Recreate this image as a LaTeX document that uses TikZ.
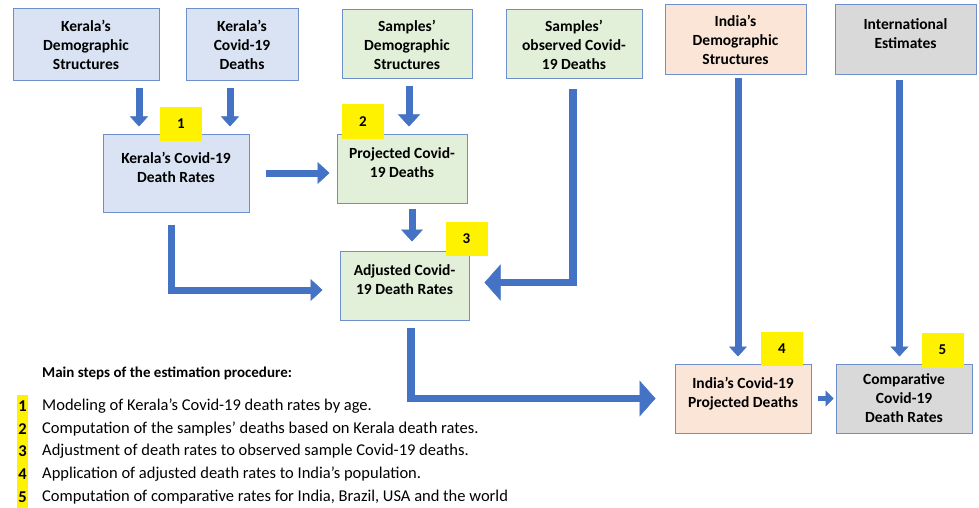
\documentclass[tikz,border=0pt]{standalone}
\usepackage{fontspec}
\setmainfont{Carlito}
\usetikzlibrary{positioning}
\usetikzlibrary{arrows.meta}

\definecolor{arrowblue}{HTML}{4472C4}
\definecolor{edgeblue}{HTML}{6E8FCB}
\definecolor{keralafill}{HTML}{DAE3F3}
\definecolor{samplefill}{HTML}{E2F0D9}
\definecolor{indiafill}{HTML}{FBE5D6}
\definecolor{worldfill}{HTML}{D9D9D9}

% empty last line, pushes two-line texts up a little
\newcommand\padline{\\[-7pt]\mbox{}}

\begin{document}
\begin{tikzpicture}[x=1pt, y=-1pt,
       box/.style={draw=edgeblue, line width=1pt, align=center, inner sep=0pt,
                   font=\fontsize{15.5}{19}\selectfont\bfseries},
       numtag/.style={fill=yellow, minimum width=42pt, minimum height=34pt, inner sep=0pt,
                   font=\fontsize{15}{17}\selectfont\bfseries},
       hl/.style={fill=yellow, inner xsep=1pt, inner ysep=0pt, minimum height=23pt,
                   font=\fontsize{16.5}{18}\selectfont\bfseries},
       item/.style={anchor=west, inner sep=0pt, font=\fontsize{16.5}{18}\selectfont},
       flow/.style={draw=arrowblue, line width=7pt,
                   -{Triangle[length=12pt, width=22pt, line width=0.5pt]}},
       slimflow/.style={flow, -{Triangle[length=10pt, width=18pt, line width=0.5pt]}},
       bigflow/.style={flow, line width=7.5pt, -{Triangle[length=16pt, width=36pt, line width=0.5pt]}},
       tinyflow/.style={draw=arrowblue, line width=5pt,
                   -{Triangle[length=8pt, width=16pt, line width=0.5pt]}}]
       \useasboundingbox (0,0) rectangle (979,508);

       % input and result boxes
       \node[box, fill=keralafill, minimum width=146pt, minimum height=72pt] (kd) at (86,45) {Kerala's\\Demographic\\Structures};
       \node[box, fill=keralafill, minimum width=112pt, minimum height=72pt] (kc) at (242,45) {Kerala's\\Covid-19\\Deaths};
       \node[box, fill=keralafill, minimum width=146pt, minimum height=78pt] (kr) at (176,173) {Kerala's Covid-19\\Death Rates\padline};
       \node[box, fill=samplefill, minimum width=130pt, minimum height=69pt] (sd) at (407,44.5) {Samples'\\Demographic\\Structures};
       \node[box, fill=samplefill, minimum width=136pt, minimum height=69pt] (so) at (574,44.5) {Samples'\\observed Covid-\\19 Deaths};
       \node[box, fill=samplefill, minimum width=130pt, minimum height=69pt] (pd) at (402,168.5) {Projected Covid-\\19 Deaths\padline};
       \node[box, fill=samplefill, minimum width=129pt, minimum height=69pt] (ad) at (404.5,285.5) {Adjusted Covid-\\19 Death Rates\padline};
       \node[box, fill=indiafill, minimum width=141pt, minimum height=70pt] (id) at (735.5,40) {India's\\Demographic\\Structures};
       \node[box, fill=worldfill, minimum width=141pt, minimum height=70pt] (ie) at (905.5,40) {International\\Estimates\padline};
       \node[box, fill=indiafill, minimum width=136pt, minimum height=69pt] (ip) at (743,398.5) {India's Covid-19\\Projected Deaths\padline};
       \node[box, fill=worldfill, minimum width=136pt, minimum height=69pt] (cr) at (904,398.5) {Comparative\\Covid-19\\Death Rates};

       % arrows
       \draw[slimflow, shorten <=7pt, shorten >=7pt] ([xshift=53pt]kd.south) -- ([xshift=-37pt]kr.north);
       \draw[slimflow, shorten <=7pt, shorten >=7pt] ([xshift=-12pt]kc.south) -- ([xshift=54pt]kr.north);
       \draw[flow, shorten <=16pt, shorten >=7pt] (kr.east) -- (kr.east -| pd.west);
       \draw[flow, shorten <=7pt, shorten >=7pt] ([xshift=2pt]sd.south) -- ([xshift=2pt]sd.south |- pd.north);
       \draw[flow, shorten <=5pt, shorten >=9pt] ([xshift=10pt]pd.south) -- ([xshift=10pt]pd.south |- ad.north);
       \draw[flow, shorten <=12pt, shorten >=17pt] ([xshift=-5pt]kr.south) |- ([yshift=-4.5pt]ad.west);
       \draw[bigflow, shorten <=10pt, shorten >=15pt] ([xshift=-1pt]so.south) |- ([yshift=3pt]ad.east);
       \draw[bigflow, shorten <=7pt, shorten >=19pt] ([xshift=6.5pt]ad.south) |- (ip.west);
       \draw[slimflow, shorten <=3pt, shorten >=7pt] ([xshift=2.5pt]id.south) -- ([xshift=2.5pt]id.south |- ip.north);
       \draw[slimflow, shorten <=5pt, shorten >=7pt] ([xshift=-6pt]ie.south) -- ([xshift=-6pt]ie.south |- cr.north);
       \draw[tinyflow, shorten <=6pt, shorten >=2pt] (ip.east) -- (ip.east -| cr.west);

       % step numbers
       \node[numtag] (t1) at (181,124) {1};
       \node[numtag] (t2) at (363,121.5) {2};
       \node[numtag] (t3) at (466.5,238.5) {3};
       \node[numtag] (t4) at (782,349) {4};
       \node[numtag] (t5) at (942.5,349.5) {5};

       % legend
       \node[item, font=\fontsize{15}{17}\selectfont\bfseries] (head) at (42,373) {Main steps of the estimation procedure:};
       \node[hl] (n1) at (22.5,406) {1};
       \node[item] (s1) at (42,406) {Modeling of Kerala's Covid-19 death rates by age.};
       \node[hl] (n2) at (22.5,428.75) {2};
       \node[item] (s2) at (42,428.75) {Computation of the samples' deaths based on Kerala death rates.};
       \node[hl] (n3) at (22.5,451.5) {3};
       \node[item] (s3) at (42,451.5) {Adjustment of death rates to observed sample Covid-19 deaths.};
       \node[hl] (n4) at (22.5,474.25) {4};
       \node[item] (s4) at (42,474.25) {Application of adjusted death rates to India's population.};
       \node[hl] (n5) at (22.5,497) {5};
       \node[item] (s5) at (42,497) {Computation of comparative rates for India, Brazil, USA and the world};
\end{tikzpicture}
\end{document}
